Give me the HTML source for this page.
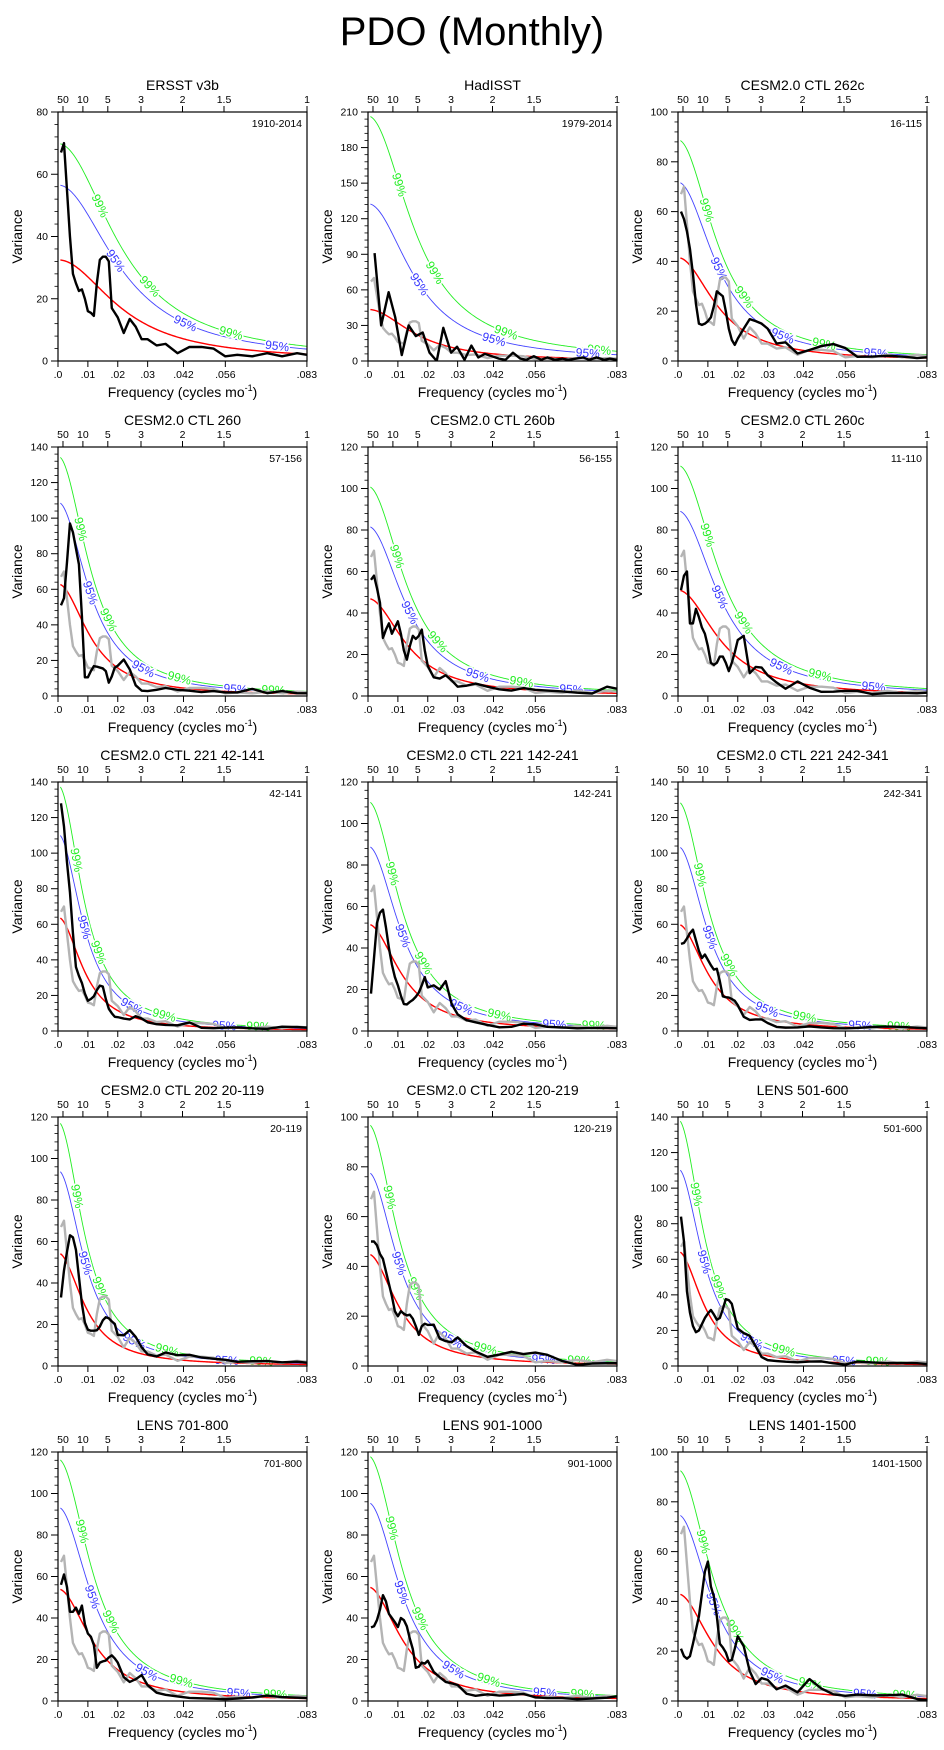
<!DOCTYPE html>
<html><head><meta charset="utf-8"><title>PDO (Monthly)</title>
<style>
html,body{margin:0;padding:0;background:#fff;}
svg{display:block;font-family:"Liberation Sans",Arial,sans-serif;}
</style></head>
<body>
<svg id="fig" width="944" height="1750" viewBox="0 0 944 1750" xmlns="http://www.w3.org/2000/svg">
<rect x="0" y="0" width="944" height="1750" fill="#fff"/>
<text x="472" y="45" text-anchor="middle" font-size="40" fill="#000">PDO (Monthly)</text>
</svg>
<script>
const panelTitles=["ERSST v3b","HadISST","CESM2.0 CTL 262c","CESM2.0 CTL 260","CESM2.0 CTL 260b","CESM2.0 CTL 260c","CESM2.0 CTL 221 42-141","CESM2.0 CTL 221 142-241","CESM2.0 CTL 221 242-341","CESM2.0 CTL 202 20-119","CESM2.0 CTL 202 120-219","LENS 501-600","LENS 701-800","LENS 901-1000","LENS 1401-1500"];
const rangeLabels=["1910-2014","1979-2014","16-115","57-156","56-155","11-110","42-141","142-241","242-341","20-119","120-219","501-600","701-800","901-1000","1401-1500"];
const yMaxes=[80,210,100,140,120,120,140,120,140,120,100,140,120,120,100];
const ySteps=[20,30,20,20,20,20,20,20,20,20,20,20,20,20,20];
const redS0=[32.5,43.5,41.5,63,47,51,64,51.5,60,54.5,45,64.5,54,55,43];
const redR=[0.87,0.9,0.915,0.93,0.917,0.91,0.943,0.927,0.934,0.941,0.933,0.943,0.925,0.925,0.924];
const k95=[1.74,3.05,1.73,1.73,1.74,1.75,1.73,1.73,1.73,1.73,1.73,1.72,1.73,1.74,1.74];
const k99=[2.15,4.75,2.14,2.14,2.15,2.18,2.16,2.15,2.15,2.16,2.16,2.15,2.16,2.15,2.16];
const freqGrid=[0.001,0.002,0.003,0.004,0.005,0.006,0.007,0.008,0.009,0.010,0.011,0.012,0.013,0.014,0.015,0.016,0.017,0.018,0.019,0.020,0.022,0.024,0.026,0.028,0.030,0.033,0.036,0.040,0.044,0.048,0.052,0.056,0.060,0.065,0.070,0.075,0.080,0.0833];
const hadFreq=[0.0022,0.0044,0.0069,0.0091,0.0113,0.0136,0.016,0.0183,0.0206,0.023,0.0252,0.0278,0.0298,0.0323,0.0346,0.0369,0.0391,0.0415,0.0438,0.046,0.0485,0.051,0.053,0.0555,0.058,0.060,0.0625,0.065,0.067,0.0695,0.072,0.074,0.0765,0.079,0.081,0.0833];
const ersstVals=[67,70,55,40,28,25,22.5,23,20,16,15.5,14.5,25,32.5,33.5,33.5,32,17,15.5,14,9,13.5,11,7,7,5,5.5,2.5,4.5,4.5,4,1.5,2,1.5,2.5,1.5,2.5,2];
const hadVals=[91,30,58,37,5,30,21,24,7,0,28,7,12,1,13,3,6,4,2,1,7,2,1,4,1,3,1,2,1,2,3,1,3,1,2,1];
const ctl262cVals=[60,57,52,45,35,23,15,14.5,15,16,17.5,22,28,27,26,20,13,8.5,6.5,9,13,16.8,16,15,13,7,7.5,3,4.4,6,6.8,5.2,1.7,1.8,2.1,1.8,1.2,1.5];
const ctl260Vals=[51,55,75,97,92,83,74,45,10.5,10.5,14,16.8,16.5,16,15.5,14,7.5,11,16,17,20.5,15,6,3,2.8,3.5,4.5,3.5,3,2.2,2.8,2,2,4,1.6,2.8,1.6,1.5];
const ctl260bVals=[56,58,52,45,28,32,35,30,33,36,30,22,17.5,24,29,27.5,29,32,22,14.5,9,8.4,10,7.5,4.5,5,6,4.5,3.2,2.6,3.8,3,2.6,2.2,1.6,1.2,4.5,3.5];
const ctl260cVals=[51,58,60,35,35,42,38,33,30,24,16,15,16,19,19,16,12,16,21,27,29,11,14,13.7,10,6.5,3.5,7,4,2,2.1,2.5,2.5,0.9,1.4,1.5,1.3,1.6];
const ctl221aVals=[128,115,95,78,55,36,31,27,21,17,18,19.5,23,25.5,25,18,12.5,10,8,7.8,7,6.5,8.3,7,4.9,3.8,3.4,3.2,4.8,1.8,1.6,1.9,2,1.5,1.2,2.4,2.2,1.9];
const ctl221bVals=[18,35,52,57,58.5,50,40,32,26,22,17,13,12.8,14,15,16.5,18.5,22,26,21,22,20,24,13,8,5.2,4.2,2.9,1.8,2,3.5,3.2,2,1.7,1.3,1.5,1.4,1.3];
const ctl221cVals=[49,49.5,52,55,57,51,45,41,43,40,37,34.5,35,28,19.5,19,18.8,18,17,14.5,8,6.2,6.5,6.5,4.5,2.3,1.9,2,2.6,2,1.6,1.5,1.7,2.3,2.5,2.3,1.8,1.5];
const ctl202aVals=[33,46,55,63,62,56,43,30,21,17.5,17,17,17.2,19,22,23.5,23,21.5,20.3,15,14.8,17.3,14,9,5.6,4.6,6.5,5.2,5.4,4.1,3.5,3,2,2.3,2.4,1.8,2.1,1.6];
const ctl202bVals=[50,50,48.5,45,43,38,33,28,22,20,22,21,20.3,20.6,19,16,12.5,16,17,16.5,16.6,11,10,9.5,11.5,8,5.8,3.7,4.6,5.7,4.8,5.4,4.5,2,0.5,1,1.1,1.1];
const lens501Vals=[84,70,42,30,22.5,19,20,23.5,27,29.5,31.5,29,26,27,32,37.6,37,35,28,21,18.5,17,11,5,3.3,2.8,2.4,2.1,2.5,2.6,1.5,0.8,2.5,2,1.6,1.7,1.6,1.1];
const lens701Vals=[56,61,55,43,43,45,42,46,37,32.5,31,27,16,18.5,19.1,19.5,21,22,20.5,18.5,11.5,9.2,10.5,12.5,7.6,4,3,2.2,1.5,1.3,1.1,0.9,1.2,1.7,2.6,1.9,1.6,1.4];
const lens901Vals=[35.5,36,39,44,51,48,42,40,38,35.6,40,39,36,30,25,16,16.5,18.5,18,19.4,14,11.5,9.2,8.5,7.7,3.5,2.5,3.2,2.6,2.9,3.4,1.8,1.4,1.4,0.9,1.2,1.6,2.2];
const lens1401Vals=[21,18,17,18,23,28.5,34,43,52,56,46,42,34,23,21.5,19.5,16,16.5,21,26,22,12,6.8,9.2,8.5,4.7,6.2,3.5,8.8,5,2.7,2.1,2.6,2.3,2.3,2.6,0.8,0.3];
const blackSeries=[ersstVals,hadVals,ctl262cVals,ctl260Vals,ctl260bVals,ctl260cVals,ctl221aVals,ctl221bVals,ctl221cVals,ctl202aVals,ctl202bVals,lens501Vals,lens701Vals,lens901Vals,lens1401Vals];
const topPeriods=[50,10,5,3,2,1.5,1];
const bottomTicks=[0,0.01,0.02,0.03,0.042,0.056,0.0833];
const bottomTickLabels=[".0",".01",".02",".03",".042",".056",".083"];

const NS="http://www.w3.org/2000/svg";
const svg=document.getElementById('fig');
const colX=[58,368,678], rowY=[112,447,782,1117,1452], PW=249, PH=249, FMAX=1/12;
function mk(tag,attrs,parent){const e=document.createElementNS(NS,tag);for(const k in attrs)e.setAttribute(k,attrs[k]);parent.appendChild(e);return e;}
function fmt(v){return (Math.round(v*100)/100).toString();}

for(let p=0;p<15;p++){
  const x0=colX[p%3], y0=rowY[Math.floor(p/3)], ymax=yMaxes[p];
  const g=mk('g',{},svg);
  
  
  const xs=f=>x0+f/FMAX*PW;
  const ys=v=>y0+PH-Math.min(v,ymax)/ymax*PH;
  const clipId='clip'+p;
  const cp=mk('clipPath',{id:clipId},g);
  mk('rect',{x:x0,y:y0,width:PW,height:PH},cp);
  // red-noise curves
  const red=f=>redS0[p]*Math.pow(1-redR[p],2)/(1+redR[p]*redR[p]-2*redR[p]*Math.cos(2*Math.PI*f));
  function curvePts(k){const pts=[];for(let i=0;i<=200;i++){const f=0.0008+(FMAX-0.0008)*i/200;pts.push([xs(f),ys(red(f)*k)]);}return pts;}
  const gp=curvePts(k99[p]), bp=curvePts(k95[p]), rp=curvePts(1);
  const plot=mk('g',{'clip-path':'url(#'+clipId+')'},g);
  
  
  const gl=mk('polyline',{points:gp.map(q=>q.join(',')).join(' '),fill:'none',stroke:'#22ee22','stroke-width':0.9},plot);
  
  
  const bl=mk('polyline',{points:bp.map(q=>q.join(',')).join(' '),fill:'none',stroke:'#4444ff','stroke-width':0.9},plot);
  
  
  function placeLabels(pts,txt,col,s0,ds,n){
    const cum=[0];for(let i=1;i<pts.length;i++)cum.push(cum[i-1]+Math.hypot(pts[i][0]-pts[i-1][0],pts[i][1]-pts[i-1][1]));
    for(let j=0;j<n;j++){const s=s0+ds*j;if(s>cum[cum.length-1]-15)break;let i=1;while(cum[i]<s)i++;
      const a=pts[i-1],b=pts[i],t=(s-cum[i-1])/(cum[i]-cum[i-1]||1);const x=a[0]+(b[0]-a[0])*t,y=a[1]+(b[1]-a[1])*t;
      const ang=Math.atan2(b[1]-a[1],b[0]-a[0])*180/Math.PI;
      const tx=mk('text',{x:fmt(x),y:fmt(y),'text-anchor':'middle','dominant-baseline':'central','font-size':12,fill:col,stroke:'#fff','stroke-width':3,'paint-order':'stroke',transform:'rotate('+fmt(ang)+' '+fmt(x)+' '+fmt(y)+')'},plot);
      tx.textContent=txt;
      
      }
  }
  placeLabels(gp,'99%','#22ee22',75,95,4);
  placeLabels(bp,'95%','#3333ff',95,95,4);
  const rl=mk('polyline',{points:rp.map(q=>q.join(',')).join(' '),fill:'none',stroke:'#ff0000','stroke-width':1.4},plot);
  
  
  if(p>0){
    const gr=mk('polyline',{points:freqGrid.map((f,i)=>fmt(xs(f))+','+fmt(ys(ersstVals[i]))).join(' '),fill:'none',stroke:'#b4b4b4','stroke-width':2.4,'stroke-linejoin':'round'},plot);
    
    
  }
  const fq=(p===1)?hadFreq:freqGrid;
  const bk=mk('polyline',{points:fq.map((f,i)=>fmt(xs(f))+','+fmt(ys(blackSeries[p][i]))).join(' '),fill:'none',stroke:'#000','stroke-width':2.4,'stroke-linejoin':'round'},plot);
  
  
  // frame
  const fr=mk('rect',{x:x0,y:y0,width:PW,height:PH,fill:'none',stroke:'#000','stroke-width':1.2},g);
  
  
  // y ticks
  const step=ySteps[p];
  for(let v=0;v<=ymax+1e-6;v+=step){
    const y=ys(v);
    const t=mk('line',{x1:x0-7,x2:x0,y1:y,y2:y,stroke:'#000','stroke-width':1},g);
    
    
    const lb=mk('text',{x:x0-10,y:y+3.5,'text-anchor':'end','font-size':10.5,fill:'#000'},g);
    lb.textContent=v;
    
    
    for(let m=1;m<5&&v+step<=ymax+1e-6;m++){const ym=ys(v+step*m/5);
      const mt=mk('line',{x1:x0-3.5,x2:x0,y1:ym,y2:ym,stroke:'#000','stroke-width':0.8},g);
      
      }
  }
  // bottom ticks
  bottomTicks.forEach((f,i)=>{const x=xs(f);
    const t=mk('line',{x1:x,x2:x,y1:y0+PH,y2:y0+PH+6,stroke:'#000','stroke-width':1},g);
    
    
    const lb=mk('text',{x:x,y:y0+PH+17,'text-anchor':'middle','font-size':10.5,fill:'#000'},g);
    lb.textContent=bottomTickLabels[i];
    
    });
  // top ticks (period)
  topPeriods.forEach(P=>{const x=xs(1/(12*P));
    const t=mk('line',{x1:x,x2:x,y1:y0,y2:y0-6,stroke:'#000','stroke-width':1},g);
    
    
    const lb=mk('text',{x:x,y:y0-9,'text-anchor':'middle','font-size':10.5,fill:'#000'},g);
    lb.textContent=P;
    
    });
  const tt=mk('text',{x:x0+PW/2,y:y0-22,'text-anchor':'middle','font-size':14,fill:'#000'},g);
  tt.textContent=panelTitles[p];
  
  
  const rg=mk('text',{x:x0+PW-5,y:y0+15,'text-anchor':'end','font-size':10.5,fill:'#000'},g);
  rg.textContent=rangeLabels[p];
  
  
  const yt=mk('text',{x:x0-36,y:y0+PH/2,'text-anchor':'middle','font-size':14,fill:'#000',transform:'rotate(-90 '+(x0-36)+' '+(y0+PH/2)+')'},g);
  yt.textContent='Variance';
  
  
  const xt=mk('text',{x:x0+PW/2,y:y0+PH+36,'text-anchor':'middle','font-size':14,fill:'#000'},g);
  
  
  xt.appendChild(document.createTextNode('Frequency (cycles mo'));
  const sup=mk('tspan',{dy:-6,'font-size':9},xt);sup.textContent='-1';
  const cl=mk('tspan',{dy:6},xt);cl.textContent=')';
}
</script>
</body></html>
